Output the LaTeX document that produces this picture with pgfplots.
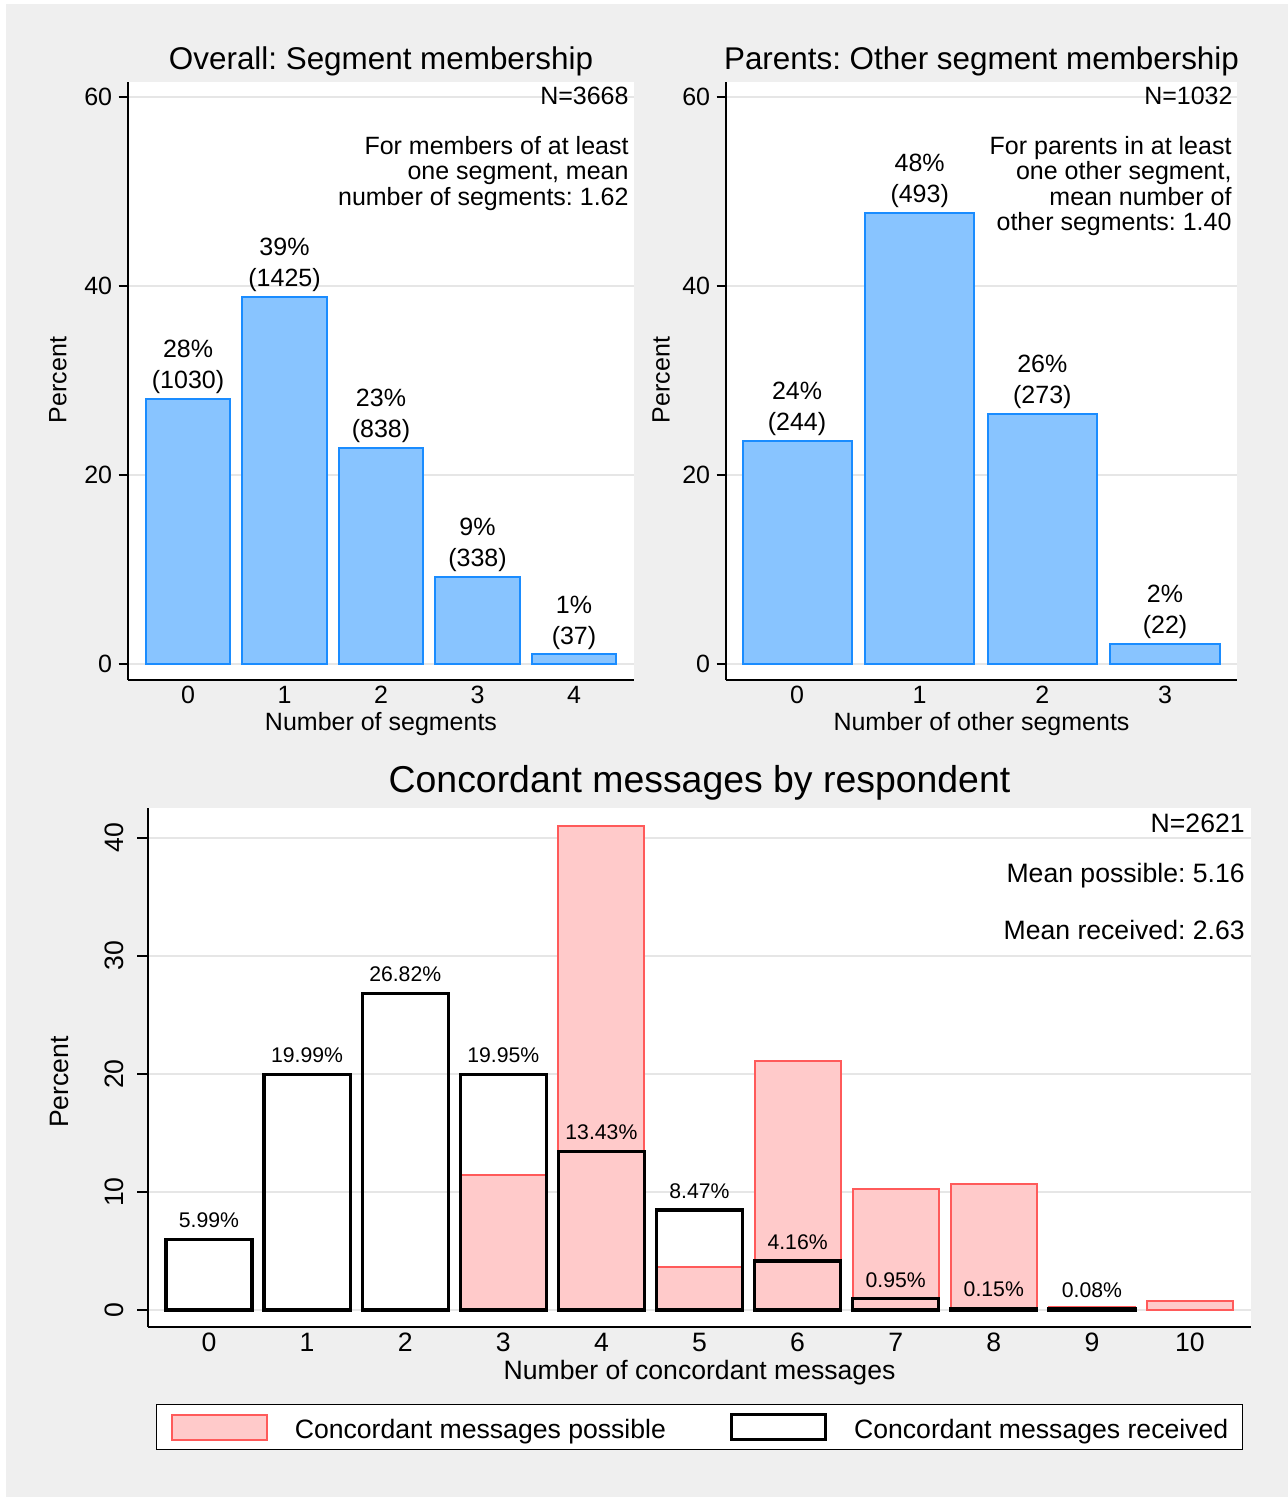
\documentclass[border=0pt]{standalone}
\usepackage{fontspec}
\setmainfont{Liberation Sans}
\usepackage{pgfplots}
\pgfplotsset{compat=1.18}
\definecolor{bgray}{HTML}{EFEFEF}
\definecolor{barblue}{HTML}{88C4FF}
\definecolor{edgeblue}{HTML}{1A8CFF}
\definecolor{pinkfill}{HTML}{FFCACA}
\definecolor{pinkedge}{HTML}{FF5A5A}
\definecolor{gridc}{HTML}{E6E6E6}
\frenchspacing

\newcommand{\fsmall}{\fontsize{10.6}{12}\selectfont}
\newcommand{\fmid}{\fontsize{12.5}{12.75}\selectfont}
\newcommand{\fbig}{\fontsize{13.3}{16}\selectfont}

\pgfplotsset{
  statastyle/.style={
    scale only axis, anchor=south west,
    axis x line=bottom, axis y line=left,
    axis line style={-, line width=0.7pt, black},
    axis background/.style={fill=white},
    ymajorgrids, grid style={gridc, line width=1pt},
    tick align=outside, major tick length=4.75pt,
    ytick style={black, line width=0.7pt},
    xtick style={draw=none},
    /pgf/number format/assume math mode=true,
    clip=false,
  },
  toppanel/.style={
    statastyle,
    width=#1, height=299pt,
    ymin=-1.693, ymax=61.59, ytick={0,20,40,60},
    tick label style={font=\fmid},
    yticklabel style={anchor=east, inner sep=0pt, xshift=-3pt},
    xticklabel style={anchor=north, inner sep=0pt, yshift=2pt},
    title style={at={(axis description cs:0.5,1.040)}, anchor=center, yshift=-7.5pt,
      font=\fontsize{15.7}{18}\selectfont},
    xlabel style={at={(axis description cs:0.5,-0.0736)}, anchor=center, font=\fmid},
    ylabel={Percent},
  },
  bluebars/.style={
    ybar, bar width=#1, bar shift=0pt, fill=barblue, draw=edgeblue, line width=1pt,
    nodes near coords, point meta=explicit symbolic,
    every node near coord/.append style={align=center, anchor=south, inner sep=0pt,
      yshift=2pt, font=\fontsize{12.5}{15.5}\selectfont, text=black},
  },
}

\begin{document}
\begin{tikzpicture}
\fill[bgray] (0,0) rectangle (644pt,-748.5pt);
\fill[white] (0,0) rectangle (3pt,-748.5pt);
\fill[white] (0,0) rectangle (644pt,-2pt);
\path[use as bounding box] (0,0) rectangle (644pt,-748.5pt);

% Overall: segment membership
\begin{axis}[toppanel=253pt, at={(64pt,-340pt)},
  xmin=-0.622, xmax=4.622, xtick={0,1,2,3,4},
  title={Overall: Segment membership},
  xlabel={Number of segments},
  ylabel style={at={(axis description cs:-0.1383,0.5017)}, anchor=center, font=\fmid},
]
\addplot[bluebars=0.88] coordinates {
  (0,28.08) [28\%\\(1030)]
  (1,38.85) [39\%\\(1425)]
  (2,22.85) [23\%\\(838)]
  (3,9.21)  [9\%\\(338)]
  (4,1.01)  [1\%\\(37)]
};
\node[anchor=east, inner sep=0pt, font=\fmid] at (axis description cs:0.990,0.9766) {N=3668};
\node[anchor=north east, align=right, inner sep=0pt, font=\fmid] at (axis description cs:0.990,0.9105)
  {For members of at least\\one segment, mean\\number of segments: 1.62};
\end{axis}

% Parents: other segment membership
\begin{axis}[toppanel=255.5pt, at={(363pt,-340pt)},
  xmin=-0.579, xmax=3.587, xtick={0,1,2,3},
  title={Parents: Other segment membership},
  xlabel={Number of other segments},
  ylabel style={at={(axis description cs:-0.127,0.5017)}, anchor=center, font=\fmid},
]
\addplot[bluebars=0.889] coordinates {
  (0,23.64) [24\%\\(244)]
  (1,47.77) [48\%\\(493)]
  (2,26.45) [26\%\\(273)]
  (3,2.13)  [2\%\\(22)]
};
\node[anchor=east, inner sep=0pt, font=\fmid] at (axis description cs:0.992,0.9766) {N=1032};
\node[anchor=north east, align=right, inner sep=0pt, font=\fmid] at (axis description cs:0.990,0.9105)
  {For parents in at least\\one other segment,\\mean number of\\other segments: 1.40};
\end{axis}

% Concordant messages
\begin{axis}[statastyle, at={(74pt,-663.5pt)}, width=551.5pt, height=259.5pt,
  xmin=-0.622, xmax=10.622, ymin=-1.44, ymax=42.54,
  xtick={0,...,10}, ytick={0,10,20,30,40},
  major tick length=5.5pt,
  tick label style={font=\fbig},
  yticklabel style={rotate=90, anchor=south, inner sep=0pt, yshift=6.5pt},
  xticklabel style={anchor=north, inner sep=0pt, yshift=2.75pt},
  title={Concordant messages by respondent},
  title style={at={(axis description cs:0.5,1.051)}, anchor=center, yshift=-6.5pt,
    font=\fontsize{18.7}{22}\selectfont},
  xlabel={Number of concordant messages},
  xlabel style={at={(axis description cs:0.5,-0.0878)}, anchor=center, font=\fbig},
  ylabel={Percent},
  ylabel style={at={(axis description cs:-0.0798,0.472)}, anchor=center, font=\fbig},
  legend columns=2, legend cell align=left,
  legend style={at={(axis description cs:0.5,-0.1484)}, anchor=north,
    draw=black, line width=0.6pt, fill=white, font=\fbig,
    inner xsep=7pt, inner ysep=4.25pt, nodes={inner sep=0pt},
    /tikz/every odd column/.append style={column sep=13.5pt},
    /tikz/every even column/.append style={column sep=32pt}},
]
\addplot[ybar, bar width=0.877, bar shift=0pt, fill=pinkfill, draw=pinkedge, line width=1pt,
  legend image code/.code={\draw[fill=pinkfill, draw=pinkedge, line width=1pt] (0pt,-4.75pt) rectangle (47.5pt,7.75pt);}]
  coordinates {
  (3,11.44) (4,41.02) (5,3.64) (6,21.10) (7,10.25) (8,10.68) (9,0.28) (10,0.76)
};
\addlegendentry{Concordant messages possible}
\addplot[ybar, bar width=0.877, bar shift=0pt, fill=none, draw=black, line width=1.6pt,
  nodes near coords, point meta=explicit symbolic,
  every node near coord/.append style={anchor=south, inner sep=0pt, yshift=5pt, font=\fsmall, text=black},
  legend image code/.code={\draw[draw=black, fill=white, line width=1.6pt] (0pt,-4.75pt) rectangle (47pt,7.75pt);}]
  coordinates {
  (0,5.99) [5.99\%]
  (1,19.99) [19.99\%]
  (2,26.82) [26.82\%]
  (3,19.95) [19.95\%]
  (4,13.43) [13.43\%]
  (5,8.47) [8.47\%]
  (6,4.16) [4.16\%]
  (7,0.95) [0.95\%]
  (8,0.15) [0.15\%]
  (9,0.08) [0.08\%]
};
\addlegendentry{Concordant messages received}
\node[anchor=east, inner sep=0pt, font=\fbig] at (axis description cs:0.9946,0.971) {N=2621};
\node[anchor=east, inner sep=0pt, font=\fbig] at (axis description cs:0.9946,0.869) {Mean possible: 5.16};
\node[anchor=east, inner sep=0pt, font=\fbig] at (axis description cs:0.9946,0.765) {Mean received: 2.63};
\end{axis}
\end{tikzpicture}
\end{document}
